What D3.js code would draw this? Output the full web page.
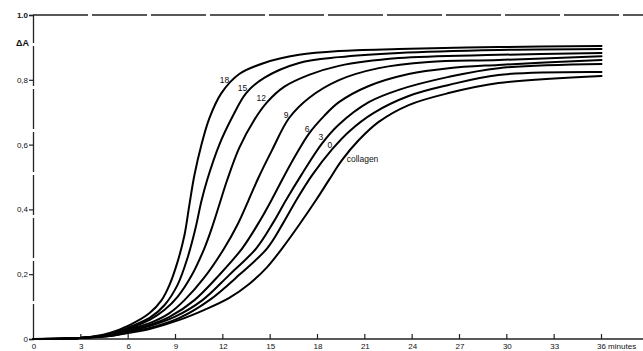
<!DOCTYPE html>
<html>
<head>
<meta charset="utf-8">
<script src="https://cdn.jsdelivr.net/npm/d3@7"></script>
<style>
  html, body { margin: 0; padding: 0; background: #fff; }
  svg { display: block; }
  text { font-family: "Liberation Sans", Arial, sans-serif; fill: #111; }
</style>
</head>
<body>
<svg id="chart" width="643" height="351"></svg>
<script>
// ---- data (time in minutes, ΔA) ----
const xTicks = [0, 3, 6, 9, 12, 15, 18, 21, 24, 27, 30, 33, 36];
const xTickLabels = ["0", "3", "6", "9", "12", "15", "18", "21", "24", "27", "30", "33", "36 minutes"];
const yTicks = [0, 0.2, 0.4, 0.6, 0.8, 1.0];
const yTickLabels = ["0", "0,2", "0,4", "0,6", "0,8", "1.0"];
const yAxisTitle = "ΔA";

const curve18 = [[0,0],[2.94,0.003],[4.83,0.019],[6.09,0.043],[7.36,0.080],[8.12,0.120],[8.62,0.167],[9.13,0.238],[9.57,0.321],[9.88,0.414],[10.20,0.506],[10.64,0.599],[11.15,0.682],[11.91,0.759],[13.04,0.818],[14.62,0.852],[16.83,0.877],[19.36,0.889],[23.15,0.895],[29.47,0.901],[36,0.904]];
const curve15 = [[0,0],[2.94,0.003],[4.83,0.015],[6.09,0.037],[7.36,0.065],[8.31,0.105],[9.13,0.167],[9.76,0.250],[10.26,0.340],[10.64,0.425],[11.02,0.493],[11.78,0.600],[12.60,0.685],[13.48,0.759],[14.62,0.806],[16.83,0.852],[19.36,0.870],[23.15,0.883],[29.47,0.892],[36,0.895]];
const curve12 = [[0,0],[2.94,0.003],[4.83,0.015],[6.09,0.034],[7.36,0.059],[8.31,0.090],[9.13,0.130],[10.01,0.195],[10.83,0.280],[11.34,0.348],[11.78,0.415],[12.25,0.487],[13.04,0.590],[13.99,0.676],[14.81,0.731],[15.88,0.778],[17.46,0.815],[19.36,0.843],[23.15,0.867],[29.47,0.877],[36,0.883]];
const curve9 = [[0,0],[2.94,0.003],[4.83,0.012],[6.09,0.031],[7.36,0.049],[8.62,0.080],[9.57,0.120],[10.83,0.190],[12.09,0.280],[12.95,0.355],[13.60,0.425],[14.25,0.497],[15.12,0.583],[16.20,0.682],[17.46,0.744],[19.36,0.799],[21.88,0.836],[25.04,0.855],[29.47,0.861],[36,0.873]];
const curve6 = [[0,0],[2.94,0.003],[4.83,0.012],[6.09,0.028],[7.36,0.043],[8.62,0.068],[10.20,0.120],[11.78,0.198],[13.23,0.280],[14.35,0.365],[15.12,0.432],[15.82,0.497],[16.65,0.570],[17.46,0.634],[18.41,0.688],[19.36,0.731],[21.25,0.781],[23.78,0.818],[26.31,0.836],[29.47,0.846],[36,0.861]];
const curve3 = [[0,0],[2.94,0.003],[4.83,0.012],[6.09,0.025],[7.36,0.040],[8.94,0.068],[10.71,0.120],[12.41,0.198],[14.12,0.280],[15.20,0.360],[16.01,0.429],[16.96,0.505],[18.28,0.603],[19.36,0.662],[21.25,0.731],[23.15,0.769],[26.31,0.809],[29.47,0.836],[36,0.849]];
const curve0 = [[0,0],[2.94,0.003],[4.83,0.009],[6.09,0.022],[7.36,0.034],[9.25,0.065],[11.15,0.120],[13.04,0.198],[14.81,0.280],[15.85,0.360],[16.70,0.432],[17.65,0.505],[18.92,0.585],[19.99,0.640],[21.57,0.698],[23.78,0.750],[26.31,0.784],[29.47,0.815],[36,0.824]];
const curveCollagen = [[0,0],[2.94,0.003],[4.83,0.009],[6.09,0.019],[7.36,0.031],[9.25,0.059],[10.83,0.090],[12.41,0.127],[13.67,0.170],[14.81,0.222],[15.76,0.280],[16.83,0.352],[17.91,0.429],[18.73,0.491],[19.55,0.552],[20.62,0.614],[21.88,0.670],[23.78,0.722],[26.31,0.759],[29.47,0.790],[36,0.812]];

const seriesNames = ["18", "15", "12", "9", "6", "3", "0", "collagen"];
const seriesData = [curve18, curve15, curve12, curve9, curve6, curve3, curve0, curveCollagen];
// label anchor positions in data units (minutes, ΔA)
const labelPos = [[12.10,0.796],[13.25,0.773],[14.43,0.740],[16.01,0.688],[17.34,0.646],[18.22,0.621],[18.79,0.596],[19.85,0.553]];

// ---- drawing ----
const svg = d3.select("#chart");
const x = d3.scaleLinear().domain([0, 36]).range([33.5, 601.5]);
const y = d3.scaleLinear().domain([0, 1]).range([339, 15]);

// top frame line
svg.append("line").attr("x1", 33).attr("x2", 643).attr("y1", y(1)).attr("y2", y(1))
  .attr("stroke", "#222").attr("stroke-width", 1.3).attr("stroke-dasharray", "55 4");

// y axis
const yAxis = d3.axisLeft(y).tickValues(yTicks).tickSize(4).tickPadding(1)
  .tickFormat((d, i) => yTickLabels[i]);
const gy = svg.append("g").attr("transform", "translate(33,0)").call(yAxis);
gy.select(".domain").attr("stroke", "#222").attr("stroke-width", 1.3).attr("stroke-dasharray", "40 3");
gy.selectAll(".tick line").attr("stroke", "#222").attr("stroke-width", 1.2);
gy.selectAll(".tick text").attr("font-size", 8).attr("fill", "#111")
  .attr("font-weight", (d) => d === 1 ? "bold" : "normal");

svg.append("text").attr("x", 29).attr("y", 46).attr("text-anchor", "end")
  .attr("font-size", 9).attr("font-weight", "bold").text(yAxisTitle);

// x axis
const xAxis = d3.axisBottom(x).tickValues(xTicks).tickSize(0).tickPadding(4)
  .tickFormat((d, i) => xTickLabels[i]);
const gx = svg.append("g").attr("transform", "translate(0,339)").call(xAxis);
gx.select(".domain").remove();
gx.selectAll(".tick text").attr("font-size", 8).attr("fill", "#111")
  .attr("text-anchor", (d) => d === 36 ? "start" : "middle")
  .attr("dx", (d) => d === 36 ? -5 : 0);
svg.append("line").attr("x1", 33).attr("x2", 643).attr("y1", 339).attr("y2", 339)
  .attr("stroke", "#222").attr("stroke-width", 1.5);
svg.append("g").selectAll("line").data(xTicks.slice(1)).join("line")
  .attr("x1", d => x(d)).attr("x2", d => x(d)).attr("y1", 339).attr("y2", 334)
  .attr("stroke", "#222").attr("stroke-width", 1.2);

// curves
const line = d3.line().x(d => x(d[0])).y(d => y(d[1])).curve(d3.curveCatmullRom.alpha(0.5));
svg.append("g").selectAll("path").data(seriesData).join("path")
  .attr("d", line).attr("fill", "none").attr("stroke", "#000")
  .attr("stroke-width", 2).attr("stroke-linejoin", "round").attr("stroke-linecap", "round");

// curve labels
svg.append("g").selectAll("text").data(seriesNames).join("text")
  .attr("x", (d, i) => x(labelPos[i][0]))
  .attr("y", (d, i) => y(labelPos[i][1]))
  .attr("text-anchor", (d) => d === "collagen" ? "start" : "middle")
  .attr("dominant-baseline", "middle")
  .attr("font-size", 8.5)
  .text(d => d);
</script>
</body>
</html>
